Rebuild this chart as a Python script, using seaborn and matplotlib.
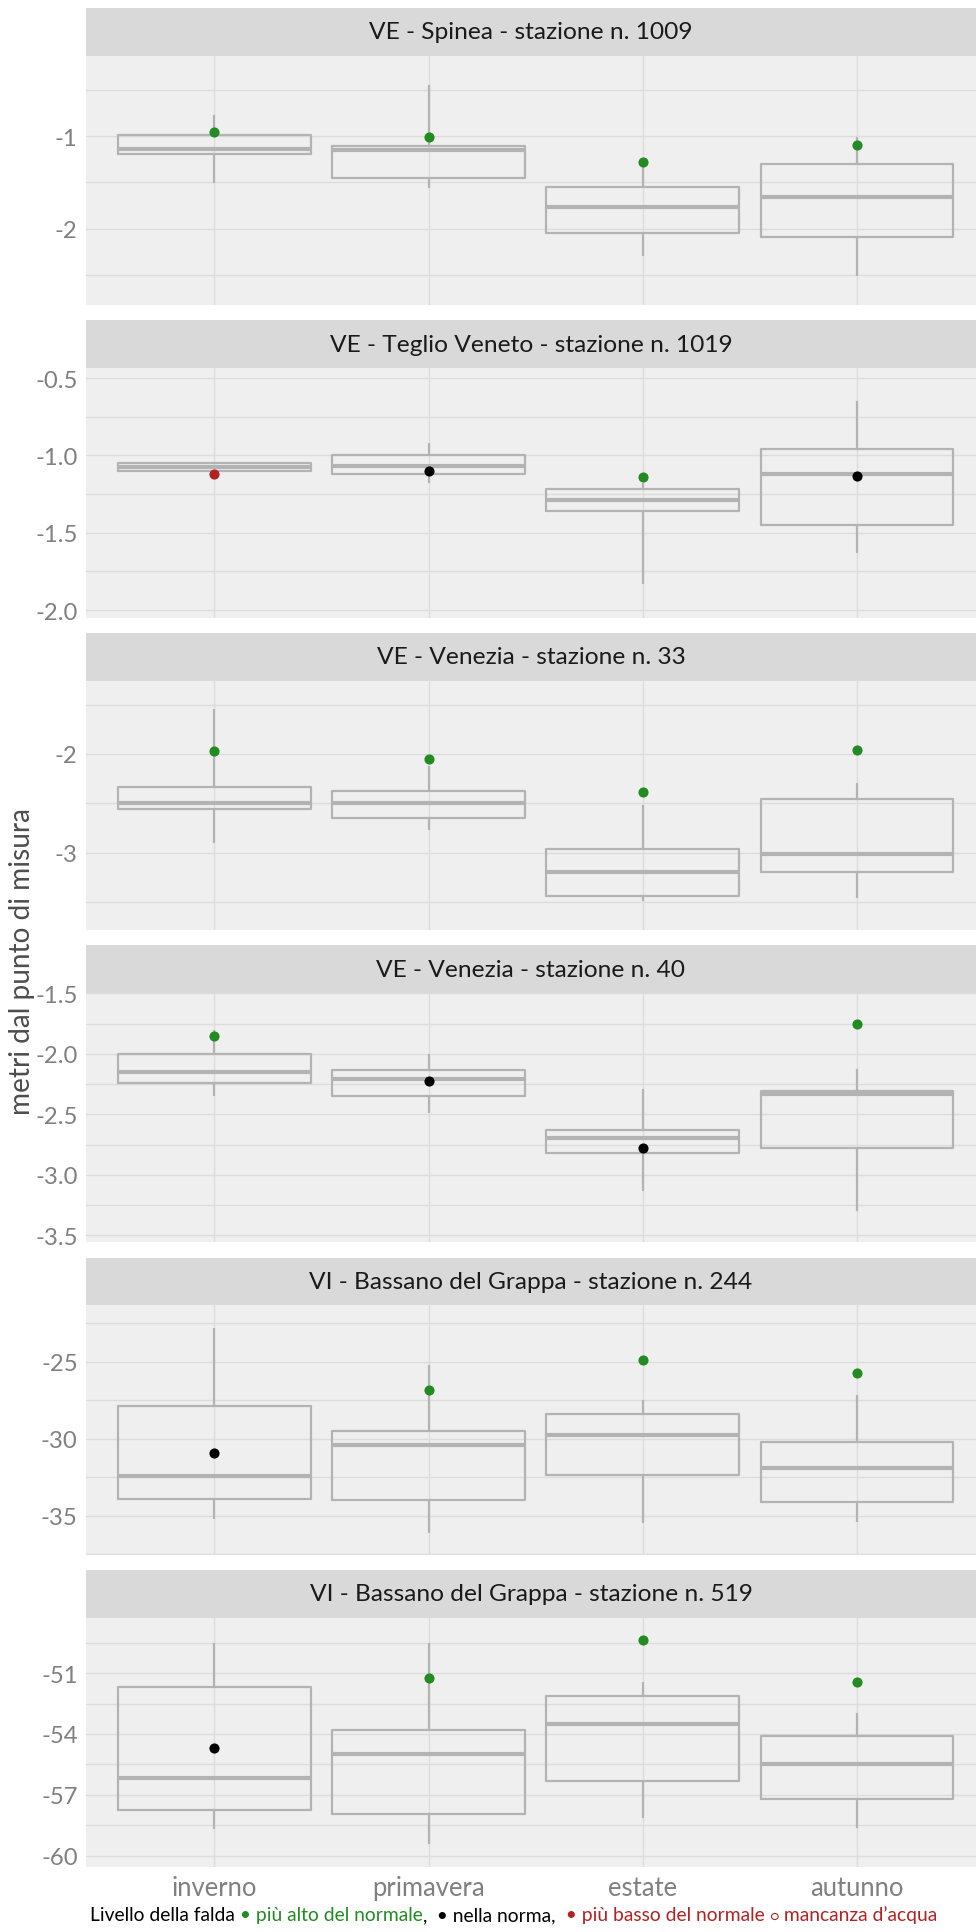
import numpy as np
import pandas as pd
import matplotlib
matplotlib.use("Agg")
import matplotlib.pyplot as plt
import seaborn as sns

# Configuration
W, H = 976, 1933
LEFT, RIGHT = 86, 976
STRIP_H, PANEL_H, PITCH, TOP0 = 47.7, 249.4, 312.4, 9
BOX_COL = "#b3b3b3"
BG_COL = "#efefef"
STRIP_COL = "#d9d9d9"
GRID_COL = "#dcdcdc"
TICK_COL = "#808080"

stazioni = [
    "VE - Spinea - stazione n. 1009",
    "VE - Teglio Veneto - stazione n. 1019",
    "VE - Venezia - stazione n. 33",
    "VE - Venezia - stazione n. 40",
    "VI - Bassano del Grappa - stazione n. 244",
    "VI - Bassano del Grappa - stazione n. 519",
]
stagioni = ["inverno", "primavera", "estate", "autunno"]

# box stats: one row per station, one column per season
baffo_sup = [
    [-0.77, -0.44, -1.30, -1.01],
    [-1.05, -0.92, -1.18, -0.65],
    [-1.55, -2.12, -2.52, -2.29],
    [-1.80, -2.00, -2.29, -2.13],
    [-22.8, -25.2, -27.5, -27.2],
    [-49.5, -49.5, -51.45, -52.95],
]
q3 = [
    [-0.985, -1.10, -1.55, -1.30],
    [-1.05, -1.00, -1.22, -0.96],
    [-2.33, -2.37, -2.96, -2.46],
    [-2.00, -2.135, -2.63, -2.31],
    [-27.9, -29.5, -28.4, -30.2],
    [-51.7, -53.8, -52.15, -54.1],
]
mediana = [
    [-1.14, -1.145, -1.77, -1.66],
    [-1.075, -1.07, -1.29, -1.12],
    [-2.50, -2.50, -3.19, -3.01],
    [-2.15, -2.21, -2.70, -2.33],
    [-32.4, -30.4, -29.8, -31.9],
    [-56.15, -55.0, -53.5, -55.5],
]
q1 = [
    [-1.19, -1.455, -2.05, -2.09],
    [-1.10, -1.12, -1.36, -1.45],
    [-2.56, -2.65, -3.44, -3.19],
    [-2.24, -2.35, -2.82, -2.78],
    [-33.9, -34.0, -32.35, -34.1],
    [-57.75, -57.95, -56.3, -57.2],
]
baffo_inf = [
    [-1.51, -1.56, -2.30, -2.51],
    [-1.10, -1.175, -1.83, -1.63],
    [-2.905, -2.77, -3.49, -3.46],
    [-2.35, -2.49, -3.13, -3.30],
    [-35.2, -36.1, -35.5, -35.4],
    [-58.7, -59.4, -58.15, -58.65],
]

# current level and its class
livello = [
    [-0.957, -1.007, -1.275, -1.098],
    [-1.119, -1.10, -1.141, -1.13],
    [-1.973, -2.05, -2.39, -1.963],
    [-1.851, -2.221, -2.782, -1.754],
    [-30.93, -26.85, -24.93, -25.76],
    [-54.70, -51.23, -49.37, -51.43],
]
stato = [
    ["alto", "alto", "alto", "alto"],
    ["basso", "norma", "alto", "norma"],
    ["alto", "alto", "alto", "alto"],
    ["alto", "norma", "norma", "alto"],
    ["norma", "alto", "alto", "alto"],
    ["norma", "alto", "alto", "alto"],
]
colori_stato = {"alto": "#228b22", "norma": "#000000", "basso": "#b22222"}

limiti_y = [(-2.828, -0.127), (-2.048, -0.435), (-3.78, -1.257),
            (-3.558, -1.497), (-37.54, -21.35), (-60.56, -48.27)]
tacche_y = [[-2, -1], [-2.0, -1.5, -1.0, -0.5], [-3, -2],
            [-3.5, -3.0, -2.5, -2.0, -1.5], [-35, -30, -25], [-60, -57, -54, -51]]
etichette_y = [["-2", "-1"], ["-2.0", "-1.5", "-1.0", "-0.5"], ["-3", "-2"],
               ["-3.5", "-3.0", "-2.5", "-2.0", "-1.5"], ["-35", "-30", "-25"],
               ["-60", "-57", "-54", "-51"]]

legenda = [
    ("Livello della falda", "#000000"),
    (" • più alto del normale", "#228b22"),
    (",", "#000000"),
    ("  • nella norma,", "#000000"),
    ("  • più basso del normale ", "#b22222"),
    ("○", "#b22222"),
    (" mancanza d’acqua", "#b22222"),
]


def box_frame(i):
    # five values per season give exactly these quartiles with whis=(0, 100)
    rows = []
    for j, s in enumerate(stagioni):
        for v in (baffo_inf[i][j], q1[i][j], mediana[i][j], q3[i][j], baffo_sup[i][j]):
            rows.append({"stagione": s, "livello": v})
    return pd.DataFrame(rows)


def point_frame(i):
    return pd.DataFrame({"stagione": stagioni, "livello": livello[i], "stato": stato[i]})


def fit_size(fig, renderer, text, target_px, base=12):
    # font size that makes `text` roughly target_px wide
    t = fig.text(0, 0, text, fontsize=base)
    w = t.get_window_extent(renderer).width
    t.remove()
    return base * target_px / w


def main():
    sns.set_theme(style="white")
    plt.rcParams["font.family"] = ["Lato", "DejaVu Sans"]

    fig = plt.figure(figsize=(W / 100, H / 100), dpi=100)
    renderer = fig.canvas.get_renderer()

    fs_strip = fit_size(fig, renderer, stazioni[0], 322)
    fs_ytick = fit_size(fig, renderer, "-0.5", 42)
    fs_xtick = fit_size(fig, renderer, "primavera", 112)
    fs_ylab = fit_size(fig, renderer, "metri dal punto di misura", 305)
    fs_leg = fit_size(fig, renderer, "".join(p for p, _ in legenda), 849)

    for i, nome in enumerate(stazioni):
        top = TOP0 + PITCH * i
        sax = fig.add_axes([LEFT / W, 1 - (top + STRIP_H) / H, (RIGHT - LEFT) / W, STRIP_H / H])
        sax.set_facecolor(STRIP_COL)
        sax.set_xticks([])
        sax.set_yticks([])
        for sp in sax.spines.values():
            sp.set_visible(False)
        sax.text(0.5, 0.5, nome, ha="center", va="center", fontsize=fs_strip, color="#1a1a1a",
                 transform=sax.transAxes)

        ax = fig.add_axes([LEFT / W, 1 - (top + STRIP_H + PANEL_H) / H,
                           (RIGHT - LEFT) / W, PANEL_H / H])
        ax.set_facecolor(BG_COL)

        sns.boxplot(data=box_frame(i), x="stagione", y="livello", order=stagioni,
                    fill=False, color=BOX_COL, linewidth=1.6, width=0.9,
                    whis=(0, 100), showcaps=False, showfliers=False,
                    medianprops={"linewidth": 3.0, "color": BOX_COL},
                    ax=ax, zorder=2)
        sns.stripplot(data=point_frame(i), x="stagione", y="livello", hue="stato",
                      palette=colori_stato, order=stagioni, jitter=False, dodge=False,
                      size=7.3, linewidth=0, legend=False, ax=ax, zorder=4)

        lo, hi = limiti_y[i]
        ax.set_ylim(lo, hi)
        ax.set_xlim(-0.6, 3.556)
        maj = tacche_y[i]
        step = maj[1] - maj[0]
        minor = [m for m in np.arange(maj[0] - step / 2, hi, step) if lo < m < hi]
        ax.set_yticks(maj)
        ax.set_yticklabels(etichette_y[i])
        ax.set_yticks(minor, minor=True)
        ax.set_xticks(range(len(stagioni)))
        if i == len(stazioni) - 1:
            ax.set_xticklabels(stagioni)
        else:
            ax.set_xticklabels([])

        ax.set_axisbelow(True)
        ax.grid(True, which="major", axis="both", color=GRID_COL, linewidth=1.0)
        ax.grid(True, which="minor", axis="y", color=GRID_COL, linewidth=1.0)
        ax.tick_params(axis="both", which="both", length=0)
        ax.tick_params(axis="y", labelsize=fs_ytick, labelcolor=TICK_COL, pad=6)
        ax.tick_params(axis="x", labelsize=fs_xtick, labelcolor=TICK_COL, pad=6)
        ax.set_xlabel("")
        ax.set_ylabel("")
        for sp in ax.spines.values():
            sp.set_visible(False)

    fig.text(22 / W, 1 - 962 / H, "metri dal punto di misura", rotation=90,
             ha="center", va="center", fontsize=fs_ylab, color="#4d4d4d")

    # caption built from coloured pieces, all on one baseline
    x = 90 / W
    y = 1 - 1921 / H
    for testo, col in legenda:
        fs = fs_leg * 0.75 if testo == "○" else fs_leg
        t = fig.text(x, y, testo, ha="left", va="baseline", fontsize=fs, color=col)
        bb = t.get_window_extent(renderer)
        x += bb.width / W

    fig.savefig("out.png", dpi=100, facecolor="white")
    plt.close(fig)


if __name__ == "__main__":
    main()
